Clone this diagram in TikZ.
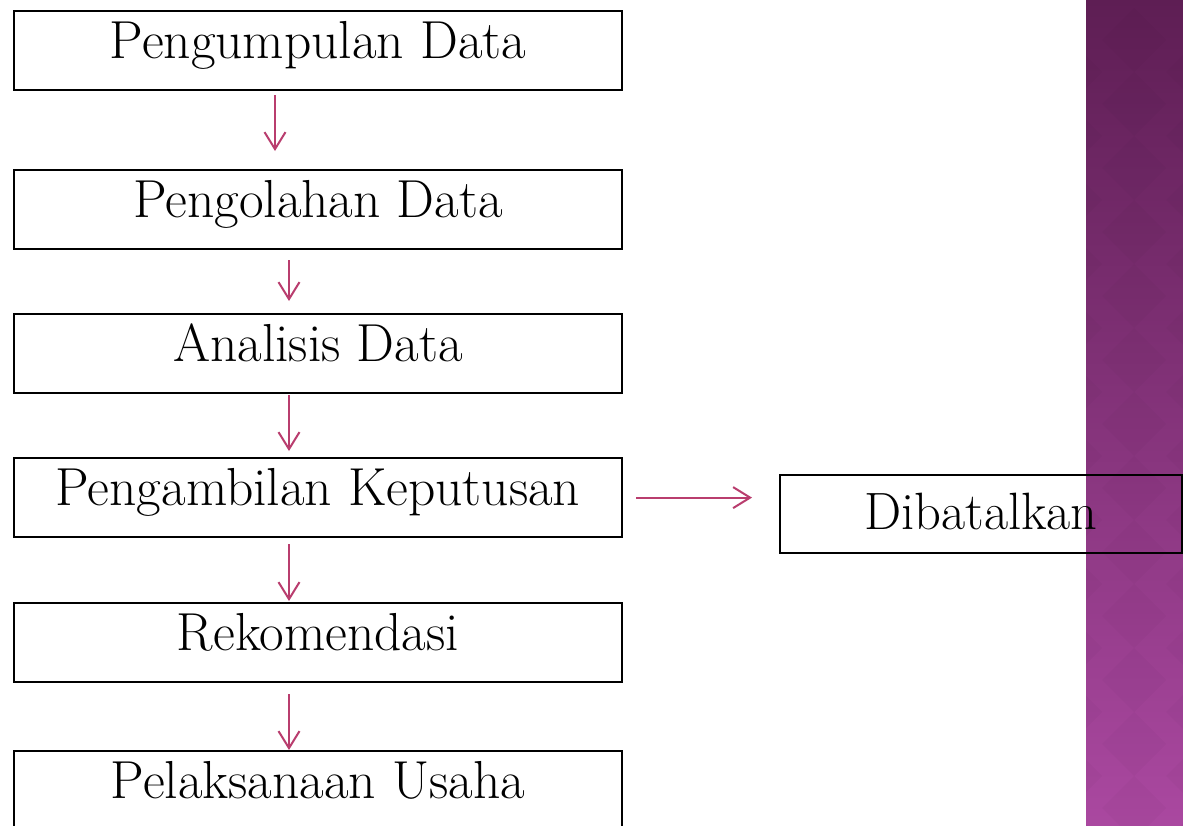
\documentclass[tikz,border=0pt]{standalone}
\usepackage{fontspec}
\usetikzlibrary{arrows.meta,calc}
\definecolor{arrowc}{HTML}{B93D6E}
\definecolor{bandtop}{HTML}{5E1E54}
\definecolor{bandbot}{HTML}{AA48A0}
\begin{document}
\begin{tikzpicture}[x=1pt,y=-1pt,
  box/.style={draw=black,line width=2.2pt,minimum width=608pt,inner xsep=0pt,inner ysep=0pt,
    text height=47pt,text depth=32pt,font=\fontsize{53.5}{60}\selectfont,anchor=north},
  dbox/.style={draw=black,line width=2.2pt,minimum width=402pt,inner xsep=0pt,inner ysep=0pt,
    text height=54pt,text depth=24pt,font=\fontsize{52.5}{60}\selectfont,anchor=north west},
  arr/.style={draw=arrowc,line width=2pt,-{Straight Barb[length=17pt,width=21pt,line width=2pt]}}]
\useasboundingbox (0,0) rectangle (1183,825);
\fill[white] (0,0) rectangle (1183,825);
% side band
\shade[top color=bandtop,bottom color=bandbot] (1086,0) rectangle (1183,825);
\begin{scope}
\clip (1086,0) rectangle (1183,825);
\foreach \j in {0,...,13}{
  \fill[black,opacity=0.02] (1134,8+64*\j) -- ++(32,32) -- ++(-32,32) -- ++(-32,-32) -- cycle;
  \fill[black,opacity=0.02] (1198,40+64*\j) -- ++(32,32) -- ++(-32,32) -- ++(-32,-32) -- cycle;
  \fill[black,opacity=0.02] (1070,40+64*\j) -- ++(32,32) -- ++(-32,32) -- ++(-32,-32) -- cycle;
}
\end{scope}
% boxes
\node[box] (b1) at (318,10) {Pengumpulan Data};
\node[box] (b2) at (318,169) {Pengolahan Data};
\node[box] (b3) at (318,313) {Analisis Data};
\node[box] (b4) at (318,457) {Pengambilan Keputusan};
\node[box] (b5) at (318,602) {Rekomendasi};
\node[box] (b6) at (318,750) {Pelaksanaan Usaha};
\node[dbox] (d) at (779,474) {Dibatalkan};
% arrows
\draw[arr] ([xshift=-43pt,yshift=-4pt]b1.south) -- ([xshift=-43pt,yshift=18pt]b2.north);
\draw[arr] ([xshift=-29pt,yshift=-10pt]b2.south) -- ([xshift=-29pt,yshift=12pt]b3.north);
\draw[arr] ([xshift=-29pt,yshift=-1pt]b3.south) -- ([xshift=-29pt,yshift=6pt]b4.north);
\draw[arr] ([xshift=-29pt,yshift=-6pt]b4.south) -- ([xshift=-29pt,yshift=1pt]b5.north);
\draw[arr] ([xshift=-29pt,yshift=-11pt]b5.south) -- ([xshift=-29pt]b6.north);
\draw[arr] ([xshift=13pt]b4.east) -- ([xshift=-27pt]b4.east -| d.west);
\end{tikzpicture}
\end{document}
